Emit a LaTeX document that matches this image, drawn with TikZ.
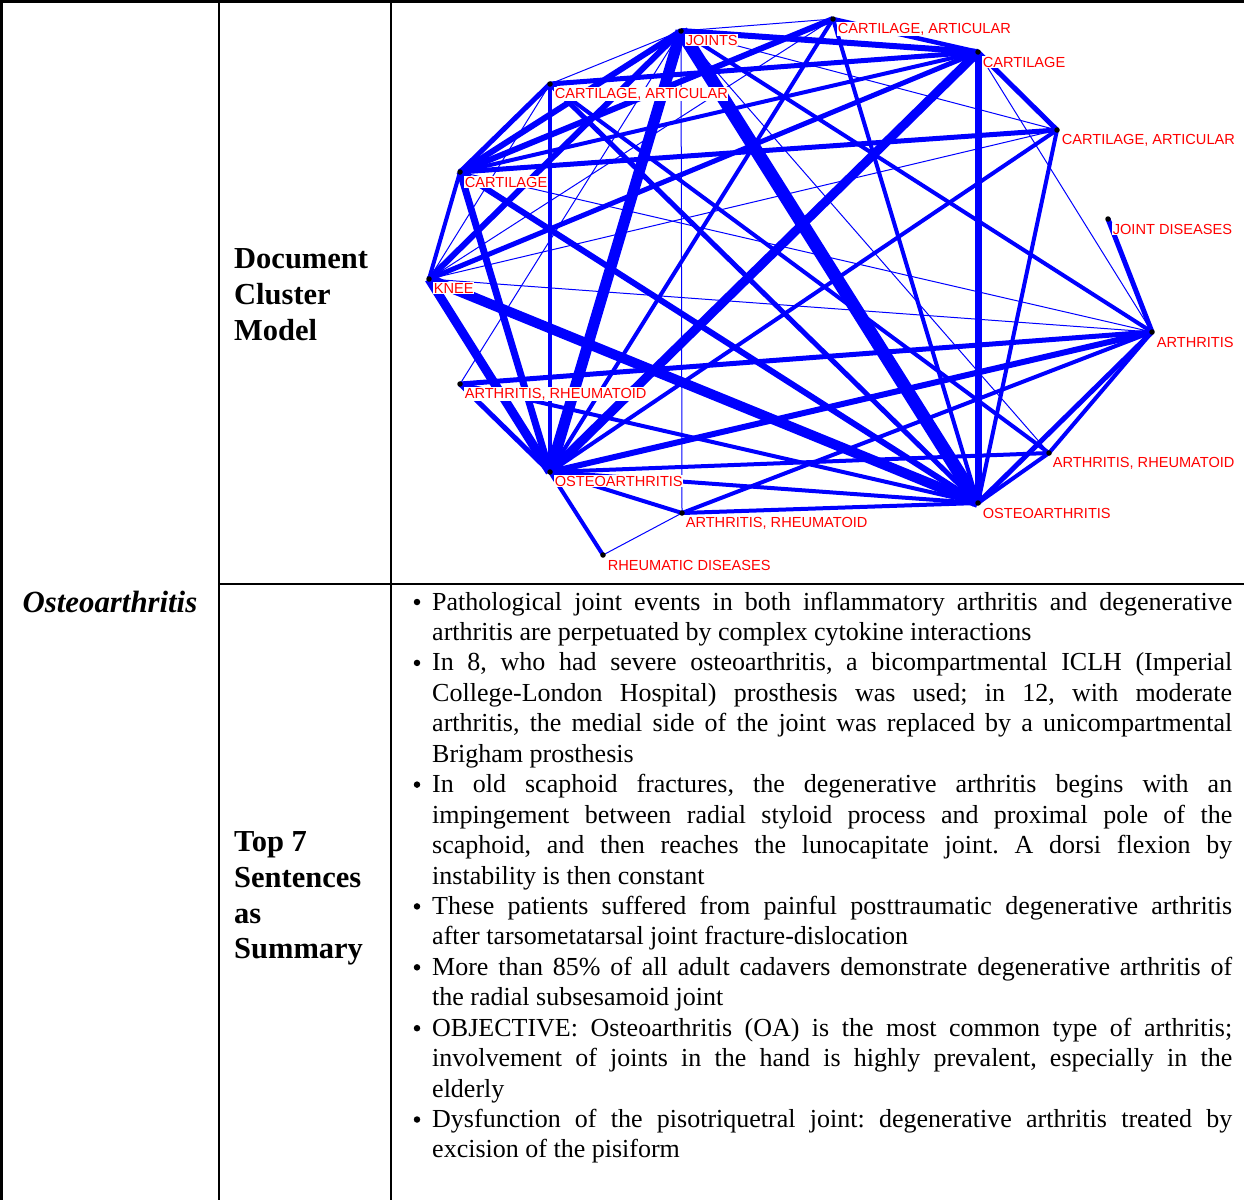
\documentclass[tikz,border=0pt]{standalone}
\usepackage{fontspec}
\setmainfont{Liberation Serif}
\newfontfamily\lab{Liberation Sans}
\frenchspacing
\begin{document}
\begin{tikzpicture}[x=1pt,y=-1pt,
 edg/.style={draw=blue,line width=#1},
 dotn/.style={circle,fill=black,inner sep=0pt,minimum size=5.5pt},
 lbl/.style={anchor=west,fill=white,inner sep=0.6pt,text=red,font=\lab\fontsize{14.6}{16}\selectfont},
 rulel/.style={line width=2.5pt,black},
 head/.style={anchor=base west,inner sep=0pt,font=\fontsize{30.5}{36}\selectfont\bfseries},
 body/.style={anchor=base west,inner sep=0pt,font=\fontsize{26}{30.44}\selectfont},
 bul/.style={circle,fill=black,inner sep=0pt,minimum size=6.5pt}]
\useasboundingbox (0,0) rectangle (1244,1200);
% graph nodes
\coordinate (J) at (681,31);
\coordinate (CA1) at (833,19);
\coordinate (C1) at (978,52);
\coordinate (CA3) at (1057,130);
\coordinate (JD) at (1108,219);
\coordinate (AR) at (1152,332);
\coordinate (RA3) at (1049,453);
\coordinate (O2) at (978,503);
\coordinate (RA2) at (682,513);
\coordinate (RD) at (603,555);
\coordinate (O1) at (550,472);
\coordinate (RA1) at (460,384);
\coordinate (K) at (429,279);
\coordinate (C2) at (460,172);
\coordinate (CA2) at (550,84);
% thin edges
\draw[edg=1pt] (J) -- (CA1);
\draw[edg=1pt] (J) -- (RA2);
\draw[edg=1pt] (J) -- (CA3);
\draw[edg=1pt] (J) -- (RA3);
\draw[edg=1pt] (RA1) -- (J);
\draw[edg=1pt] (C1) -- (AR);
\draw[edg=1pt] (K) -- (CA3);
\draw[edg=1pt] (K) -- (AR);
\draw[edg=1pt] (C2) -- (AR);
\draw[edg=1pt] (K) -- (CA2);
\draw[edg=1pt] (K) -- (CA1);
\draw[edg=1pt] (CA2) -- (J);
\draw[edg=1pt] (RA2) -- (RD);
% medium edges
\draw[edg=4.5pt] (CA1) -- (C1);
\draw[edg=4pt] (CA1) -- (O1);
\draw[edg=4pt] (CA1) -- (O2);
\draw[edg=4pt] (CA2) -- (O1);
\draw[edg=4pt] (CA2) -- (RA3);
\draw[edg=5pt] (C2) -- (CA3);
\draw[edg=4pt] (C2) -- (K);
\draw[edg=4pt] (C2) -- (C1);
\draw[edg=5pt] (K) -- (C1);
\draw[edg=4pt] (J) -- (AR);
\draw[edg=4pt] (CA3) -- (O2);
\draw[edg=4pt] (CA3) -- (O1);
\draw[edg=5pt] (AR) -- (O2);
\draw[edg=4pt] (AR) -- (RA3);
\draw[edg=4pt] (RA3) -- (O2);
\draw[edg=4pt] (O1) -- (RA3);
\draw[edg=4pt] (O1) -- (O2);
\draw[edg=4pt] (RA1) -- (O2);
\draw[edg=4pt] (RA2) -- (O2);
\draw[edg=4pt] (RA2) -- (AR);
\draw[edg=4pt] (RA2) -- (O1);
\draw[edg=4pt] (RD) -- (O1);
% thick edges
\draw[edg=6pt] (C2) -- (O2);
\draw[edg=6pt] (C2) -- (J);
\draw[edg=6pt] (C2) -- (CA1);
\draw[edg=6pt] (K) -- (J);
\draw[edg=6pt] (J) -- (C1);
\draw[edg=5pt] (CA2) -- (C1);
\draw[edg=5pt] (CA2) -- (C2);
\draw[edg=5pt] (CA2) -- (O2);
\draw[edg=6pt] (O1) -- (AR);
\draw[edg=5pt] (RA1) -- (AR);
\draw[edg=5pt] (C1) -- (CA3);
\draw[edg=5pt] (JD) -- (AR);
\draw[edg=5pt] (RA1) -- (O1);
\draw[edg=7pt] (C1) -- (O2);
\draw[edg=7pt] (C2) -- (O1);
% very thick edges
\draw[edg=9pt] (C1) -- (O1);
\draw[edg=9pt] (K) -- (O1);
\draw[edg=10pt] (K) -- (O2);
\draw[edg=11pt] (J) -- (O1);
\draw[edg=13pt] (J) -- (O2);
% dots
\foreach \n in {J,CA1,C1,CA3,JD,AR,RA3,O2,RA2,RD,O1,RA1,K,C2,CA2}
  \node[dotn] (d\n) at (\n) {};
% labels
\node[lbl] (lJ) at (685,40) {JOINTS};
\node[lbl] (lCA1) at (837,29) {CARTILAGE, ARTICULAR};
\node[lbl] (lC1) at (982,62) {CARTILAGE};
\node[lbl] (lCA3) at (1061,140) {CARTILAGE, ARTICULAR};
\node[lbl] (lJD) at (1112,229) {JOINT DISEASES};
\node[lbl] (lAR) at (1156,342) {ARTHRITIS};
\node[lbl] (lRA3) at (1052,463) {ARTHRITIS, RHEUMATOID};
\node[lbl] (lO2) at (982,513) {OSTEOARTHRITIS};
\node[lbl] (lRA2) at (685,523) {ARTHRITIS, RHEUMATOID};
\node[lbl] (lRD) at (607,565) {RHEUMATIC DISEASES};
\node[lbl] (lO1) at (554,481) {OSTEOARTHRITIS};
\node[lbl] (lRA1) at (464,394) {ARTHRITIS, RHEUMATOID};
\node[lbl] (lK) at (433,288) {KNEE};
\node[lbl] (lC2) at (464,182) {CARTILAGE};
\node[lbl] (lCA2) at (554,94) {CARTILAGE, ARTICULAR};
% table rules
\draw[rulel] (1.5,0) -- (1.5,1200);
\draw[rulel] (0,1.5) -- (1244,1.5);
\draw[rulel] (219,0) -- (219,1200);
\draw[rulel] (391,0) -- (391,1200);
\draw[rulel] (219,584) -- (1244,584);
% left texts
\node[anchor=base,inner sep=0pt,font=\fontsize{30.8}{36}\selectfont\bfseries\itshape] (topic) at (110,612) {Osteoarthritis};
\node[head] (h1) at (234,268) {Document};
\node[head] (h2) at (234,304) {Cluster};
\node[head] (h3) at (234,340) {Model};
\node[head] (s1) at (234,851) {Top 7};
\node[head] (s2) at (234,887) {Sentences};
\node[head] (s3) at (234,923) {as};
\node[head] (s4) at (234,958) {Summary};
% bullets
\foreach \yy/\nm in {610/1,670.9/2,792.6/3,914.4/4,975.3/5,1036.2/6,1127.5/7}
  \node[bul] (u\nm) at (417,\yy-8) {};
% body lines
\node[body] (b1) at (432,610) {\makebox[800pt][s]{Pathological joint events in both inflammatory arthritis and degenerative}};
\node[body] (b2) at (432,640.4) {arthritis are perpetuated by complex cytokine interactions};
\node[body] (b3) at (432,670.9) {\makebox[800pt][s]{In 8, who had severe osteoarthritis, a bicompartmental ICLH (Imperial}};
\node[body] (b4) at (432,701.3) {\makebox[800pt][s]{College-London Hospital) prosthesis was used; in 12, with moderate}};
\node[body] (b5) at (432,731.8) {\makebox[800pt][s]{arthritis, the medial side of the joint was replaced by a unicompartmental}};
\node[body] (b6) at (432,762.2) {Brigham prosthesis};
\node[body] (b7) at (432,792.6) {\makebox[800pt][s]{In old scaphoid fractures, the degenerative arthritis begins with an}};
\node[body] (b8) at (432,823.1) {\makebox[800pt][s]{impingement between radial styloid process and proximal pole of the}};
\node[body] (b9) at (432,853.5) {\makebox[800pt][s]{scaphoid, and then reaches the lunocapitate joint. A dorsi flexion by}};
\node[body] (b10) at (432,884.0) {instability is then constant};
\node[body] (b11) at (432,914.4) {\makebox[800pt][s]{These patients suffered from painful posttraumatic degenerative arthritis}};
\node[body] (b12) at (432,944.8) {after tarsometatarsal joint fracture-dislocation};
\node[body] (b13) at (432,975.3) {\makebox[800pt][s]{More than 85\% of all adult cadavers demonstrate degenerative arthritis of}};
\node[body] (b14) at (432,1005.7) {the radial subsesamoid joint};
\node[body] (b15) at (432,1036.2) {\makebox[800pt][s]{OBJECTIVE: Osteoarthritis (OA) is the most common type of arthritis;}};
\node[body] (b16) at (432,1066.6) {\makebox[800pt][s]{involvement of joints in the hand is highly prevalent, especially in the}};
\node[body] (b17) at (432,1097.0) {elderly};
\node[body] (b18) at (432,1127.5) {\makebox[800pt][s]{Dysfunction of the pisotriquetral joint: degenerative arthritis treated by}};
\node[body] (b19) at (432,1157.9) {excision of the pisiform};
\end{tikzpicture}
\end{document}
